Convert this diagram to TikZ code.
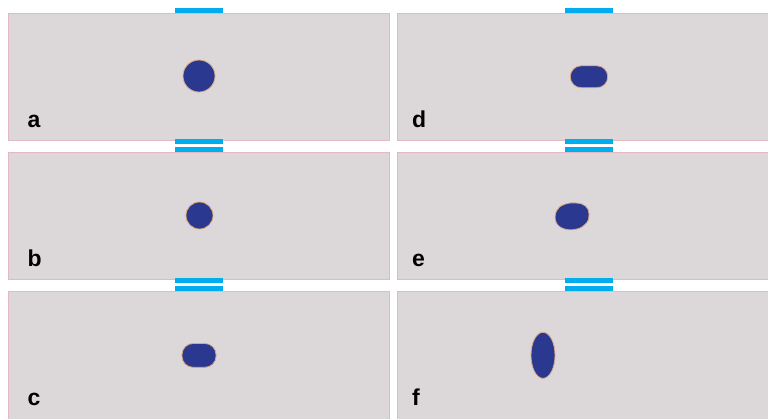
\documentclass[tikz,border=0pt]{standalone}
\usepackage{fontspec}
\setmainfont{Liberation Sans}
\usetikzlibrary{shapes.misc}
\definecolor{panelfill}{HTML}{DCD8DA}
\definecolor{panelline}{HTML}{E2B9C2}
\definecolor{barblue}{HTML}{00AEEF}
\definecolor{blobblue}{HTML}{2B388F}
\definecolor{blobrim}{HTML}{D9A985}
\begin{document}
\begin{tikzpicture}[x=1pt,y=-1pt,
  panel/.style={fill=panelfill,draw=panelline,line width=0.8pt},
  bar/.style={fill=barblue,draw=none},
  blob/.style={fill=blobblue,draw=blobrim,line width=0.8pt},
  lbl/.style={anchor=base west,inner sep=0pt,font=\fontsize{23}{23}\selectfont\bfseries}]
\useasboundingbox (0,0) rectangle (768,418);
\fill[white] (0,0) rectangle (768,418);
% panels
\foreach \r in {0,1}{
  \draw[panel] (8,{13+139*\r}) rectangle (389.5,{140+139*\r});
  \draw[panel] (397.5,{13+139*\r}) rectangle (775,{140+139*\r});
}
\draw[panel] (8,291) rectangle (389.5,425);
\draw[panel] (397.5,291) rectangle (775,425);
% top single bars
\fill[bar] (175,8.3) rectangle (223,12.7);
\fill[bar] (564.5,8.3) rectangle (612.5,12.7);
% double bars
\foreach \r in {0,1}{
  \foreach \xa in {174.5,564.5}{
    \fill[bar] (\xa,{139.3+139*\r}) rectangle ({\xa+48.3},{144+139*\r});
    \fill[bar] (\xa,{147.3+139*\r}) rectangle ({\xa+48.3},{151.8+139*\r});
  }
}
% blobs
\draw[blob] (199,76) circle (16);
\draw[blob] (199.5,215.5) circle (13.5);
\draw[blob,rounded corners=11pt] (182,343.5) rectangle (216,367.3);
\draw[blob,rounded corners=10.8pt] (570.3,65.8) rectangle (607.7,87.7);
\draw[blob] plot[smooth cycle,tension=0.7] coordinates
  {(589,214) (585.5,206) (576,203) (564,204.5) (556.5,211) (556,222) (564,228.8) (577,229) (586.5,223)};
\draw[blob] (543,355.3) ellipse (12 and 23);
% labels
\node[lbl] (la) at (27.5,127.3) {a};
\node[lbl] (lb) at (27.5,266.3) {b};
\node[lbl] (lc) at (27.5,405) {c};
\node[lbl] (ld) at (412,127.3) {d};
\node[lbl] (le) at (412,266.3) {e};
\node[lbl] (lf) at (412,405) {f};
\end{tikzpicture}
\end{document}
